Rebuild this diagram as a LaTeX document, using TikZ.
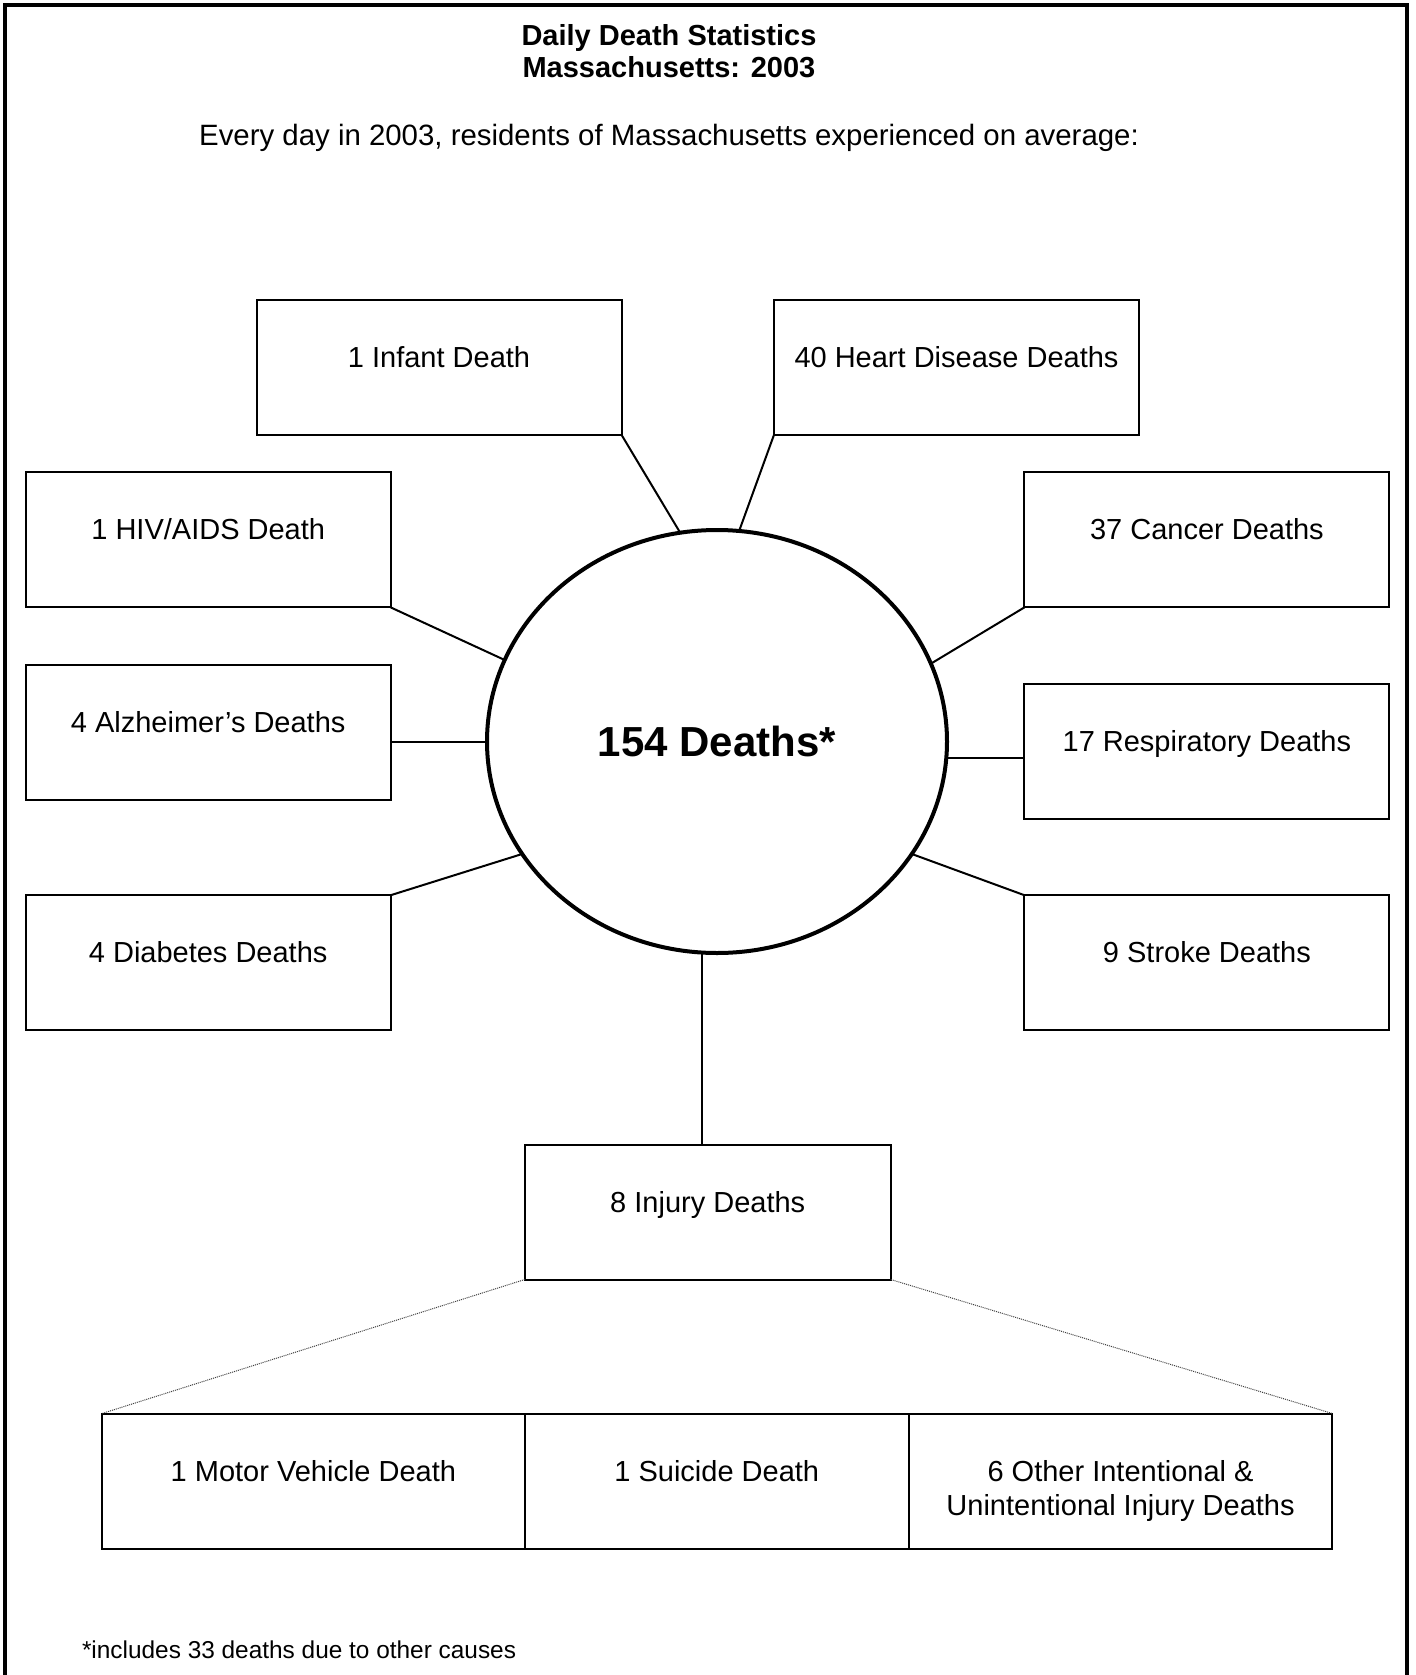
\documentclass[tikz,border=0pt]{standalone}
\usepackage{fontspec}
\setmainfont{Liberation Sans}
\usetikzlibrary{shapes.geometric}
\begin{document}
\begin{tikzpicture}[x=0.5pt,y=-0.5pt,
  box/.style={draw, line width=1pt, outer sep=0pt, inner sep=0pt,
    minimum width=182.5pt, minimum height=67.5pt,
    font=\fontsize{14.5}{17}\selectfont, text height=1em, text depth=1em},
  txt/.style={inner sep=0pt, outer sep=0pt, font=\fontsize{14.5}{17}\selectfont},
  conn/.style={line width=1pt},
  dotline/.style={line width=0.5pt, black!75, dash pattern=on 0.5pt off 0.5pt},
  hub/.style={draw, ellipse, line width=2pt, outer sep=0pt, inner sep=0pt,
    minimum width=230pt, minimum height=211.5pt,
    font=\fontsize{21}{25}\selectfont\bfseries}
]
\useasboundingbox (0,0) rectangle (1416,1675);
% outer frame (open at bottom)
\draw[line width=1.75pt] (5,1675) -- (5,5) -- (1407,5) -- (1407,1675);

% titles
\node[txt, font=\fontsize{14.5}{17}\selectfont\bfseries, anchor=base] (t1) at (669,46) {Daily Death Statistics};
\node[txt, font=\fontsize{14.5}{17}\selectfont\bfseries, anchor=base] (t2) at (669,78) {Massachusetts: 2003};
\node[txt, font=\fontsize{14.7}{17}\selectfont, anchor=base] (sub) at (669,146) {Every day in 2003, residents of Massachusetts experienced on average:};

% hub
\node[hub] (c) at (717,741.5) {154 Deaths*};

% boxes
\node[box] (infant) at (439,367.3) {1 Infant Death};
\node[box] (heart) at (956.5,367.3) {40 Heart Disease Deaths};
\node[box] (hiv) at (208.2,539.9) {1 HIV/AIDS Death};
\node[box] (cancer) at (1206.9,539.9) {37 Cancer Deaths};
\node[box] (alz) at (208.2,732.2) {4 Alzheimer’s Deaths};
\node[box] (resp) at (1206.9,751.1) {17 Respiratory Deaths};
\node[box] (diab) at (208.2,962.7) {4 Diabetes Deaths};
\node[box] (stroke) at (1206.9,962.7) {9 Stroke Deaths};
\node[box, minimum width=183pt] (inj) at (707.75,1212) {8 Injury Deaths};

\node[box, minimum width=211.4pt] (mv) at (313.4,1481) {1 Motor Vehicle Death};
\node[box, minimum width=191.95pt] (sui) at (716.75,1481) {1 Suicide Death};
\node[box, minimum width=211.85pt] (oth) at (1120.55,1481) {};
\node[txt, align=center, anchor=base] (othtxt) at ([yshift=-17pt]oth.center) {6 Other Intentional \&\\Unintentional Injury Deaths};

% connectors
\draw[conn] (infant.south east) -- (c.100.1);
\draw[conn] (heart.south west) -- (c.84.6);
\draw[conn] (hiv.south east) -- (c.159.9);
\draw[conn] (cancer.south west) -- (c.20.1);
\draw[conn] (c.west) -- (c.west -| alz.east);
\draw[conn] (c.-4.9) -- (c.-4.9 -| resp.west);
\draw[conn] (diab.north east) -- (c.210.7);
\draw[conn] (stroke.north west) -- (c.-30.8);
\draw[conn] (c.266.5) -- (c.266.5 |- inj.north);

\draw[dotline] (inj.south west) -- (mv.north west);
\draw[dotline] (inj.south east) -- (oth.north east);

% footnote
\node[txt, font=\fontsize{12.2}{14}\selectfont, anchor=base west] (fn) at (82,1658) {*includes 33 deaths due to other causes};
\end{tikzpicture}
\end{document}
